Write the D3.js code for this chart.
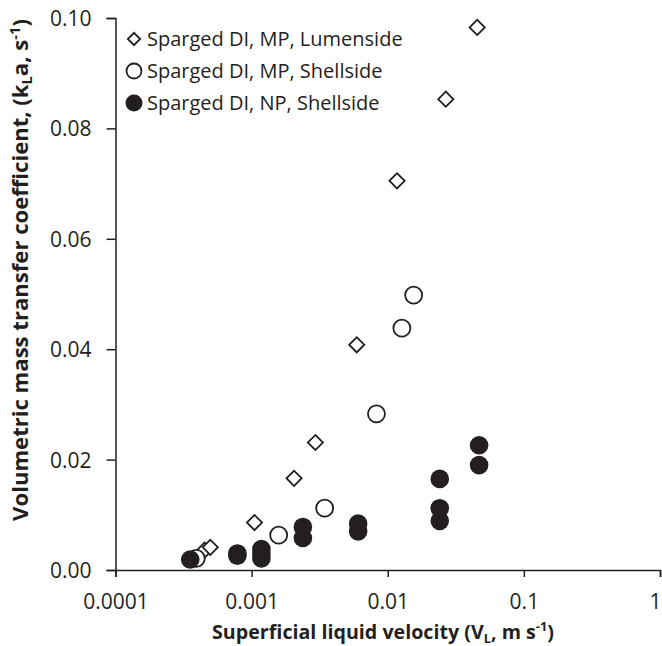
<!DOCTYPE html>
<html>
<head>
<meta charset="utf-8">
<script src="https://cdn.jsdelivr.net/npm/d3@7"></script>
<style>
  html, body { margin: 0; padding: 0; background: #fff; }
  svg { display: block; font-family: "Open Sans", sans-serif; }
</style>
</head>
<body>
<svg id="chart" width="662" height="646"></svg>
<script>
// ---- Data ----
const lumensideMP_x = [0.000451, 0.000497, 0.00105, 0.00205, 0.00294, 0.00592, 0.0117, 0.0267, 0.0454];
const lumensideMP_y = [0.0036, 0.0041, 0.0086, 0.0166, 0.0231, 0.0408, 0.0705, 0.0853, 0.0983];

const shellsideMP_x = [0.000392, 0.00158, 0.00344, 0.00826, 0.0127, 0.0155];
const shellsideMP_y = [0.0021, 0.0063, 0.0112, 0.0283, 0.0438, 0.0498];

const shellsideNP_x = [0.000354, 0.000786, 0.000786, 0.00118, 0.00118, 0.00118, 0.00238, 0.00238, 0.00606, 0.00606, 0.0241, 0.0241, 0.0241, 0.0469, 0.0469];
const shellsideNP_y = [0.0019, 0.0030, 0.0026, 0.0038, 0.0030, 0.0021, 0.0078, 0.0058, 0.0084, 0.0070, 0.0165, 0.0112, 0.0089, 0.0226, 0.0190];

const seriesNames = ["Sparged DI, MP, Lumenside", "Sparged DI, MP, Shellside", "Sparged DI, NP, Shellside"];
const xTicks = [0.0001, 0.001, 0.01, 0.1, 1];
const xTickLabels = ["0.0001", "0.001", "0.01", "0.1", "1"];
const yTicks = [0, 0.02, 0.04, 0.06, 0.08, 0.10];
const yTickLabels = ["0.00", "0.02", "0.04", "0.06", "0.08", "0.10"];

// ---- Layout ----
const ink = "#231f20";
const svg = d3.select("#chart");
const mLeft = 115.5, mRight = 660, mTop = 18, mBottom = 570;

const x = d3.scaleLog().domain([0.0001, 1]).range([mLeft, mRight]);
const y = d3.scaleLinear().domain([0, 0.10]).range([mBottom, mTop]);

// Axes
const xAxis = d3.axisBottom(x).tickValues(xTicks).tickFormat((d, i) => xTickLabels[i]).tickSizeOuter(0).tickSize(7).tickPadding(17);
const yAxis = d3.axisLeft(y).tickValues(yTicks).tickFormat((d, i) => yTickLabels[i]).tickSizeOuter(0).tickSize(9).tickPadding(15);

const gx = svg.append("g").attr("transform", `translate(0,${mBottom})`).call(xAxis);
const gy = svg.append("g").attr("transform", `translate(${mLeft},0)`).call(yAxis);
[gx, gy].forEach(g => {
  g.selectAll("path.domain").attr("stroke", ink).attr("stroke-width", 1.5);
  g.selectAll(".tick line").attr("stroke", ink).attr("stroke-width", 1.5);
  g.selectAll(".tick text").attr("fill", ink).style("font-size", "21px").style("font-family", '"Open Sans", sans-serif');
});
gy.selectAll(".tick text").attr("dy", "0.36em");
gx.selectAll(".tick text").filter(d => d === 1).attr("text-anchor", "end").attr("dx", 1);

// Helper: fit a title to a target length by scaling along its direction
function fitTitle(sel, target) {
  const w = sel.node().getComputedTextLength();
  return target / w;
}

// Axis titles
const xt = svg.append("text")
  .attr("text-anchor", "middle")
  .attr("fill", ink)
  .style("font-weight", "bold").style("font-size", "20px");
xt.append("tspan").text("Superficial liquid velocity (V");
xt.append("tspan").attr("dy", 4).style("font-size", "13px").text("L");
xt.append("tspan").attr("dy", -4).text(", m s");
xt.append("tspan").attr("dy", -8).style("font-size", "13px").text("-1");
xt.append("tspan").attr("dy", 8).text(")");
const sxX = fitTitle(xt, 342);
xt.attr("transform", `translate(383,639) scale(${sxX},1)`);

const yt = svg.append("text")
  .attr("text-anchor", "middle")
  .attr("fill", ink)
  .style("font-weight", "bold").style("font-size", "21px");
yt.append("tspan").text("Volumetric mass transfer coefficient, (k");
yt.append("tspan").attr("dy", 4).style("font-size", "14px").text("L");
yt.append("tspan").attr("dy", -4).text("a, s");
yt.append("tspan").attr("dy", -8).style("font-size", "14px").text("-1");
yt.append("tspan").attr("dy", 8).text(")");
const sxY = fitTitle(yt, 502);
yt.attr("transform", `translate(28,270) rotate(-90) scale(${sxY},1)`);

// Markers
const diamond = d3.symbol().type(d3.symbolSquare).size(115);
const plot = svg.append("g");

const npData = shellsideNP_x.map((v, i) => ({x: v, y: shellsideNP_y[i]}));
const mpData = shellsideMP_x.map((v, i) => ({x: v, y: shellsideMP_y[i]}));
const lumData = lumensideMP_x.map((v, i) => ({x: v, y: lumensideMP_y[i]}));

plot.selectAll("path.lum").data(lumData).enter().append("path")
  .attr("class", "lum")
  .attr("d", diamond)
  .attr("transform", d => `translate(${x(d.x)},${y(d.y)}) rotate(45)`)
  .attr("fill", "#fff").attr("stroke", ink).attr("stroke-width", 1.8);

plot.selectAll("circle.mp").data(mpData).enter().append("circle")
  .attr("class", "mp")
  .attr("cx", d => x(d.x)).attr("cy", d => y(d.y)).attr("r", 8.5)
  .attr("fill", "#fff").attr("stroke", ink).attr("stroke-width", 1.8);

plot.selectAll("circle.np").data(npData).enter().append("circle")
  .attr("class", "np")
  .attr("cx", d => x(d.x)).attr("cy", d => y(d.y)).attr("r", 9.3)
  .attr("fill", ink).attr("stroke", "none");

// Legend
const legend = svg.append("g");
const legY = [39, 71, 103];
seriesNames.forEach((name, i) => {
  const g = legend.append("g").attr("transform", `translate(134,${legY[i]})`);
  if (i === 0) {
    g.append("path").attr("d", d3.symbol().type(d3.symbolSquare).size(75)).attr("transform", "rotate(45)")
      .attr("fill", "#fff").attr("stroke", ink).attr("stroke-width", 1.8);
  } else if (i === 1) {
    g.append("circle").attr("r", 7.5).attr("fill", "#fff").attr("stroke", ink).attr("stroke-width", 1.8);
  } else {
    g.append("circle").attr("r", 8.5).attr("fill", ink);
  }
  g.append("text").attr("x", 13).attr("dy", "0.36em").attr("fill", ink)
    .style("font-size", "20px").text(name);
});
</script>
</body>
</html>
